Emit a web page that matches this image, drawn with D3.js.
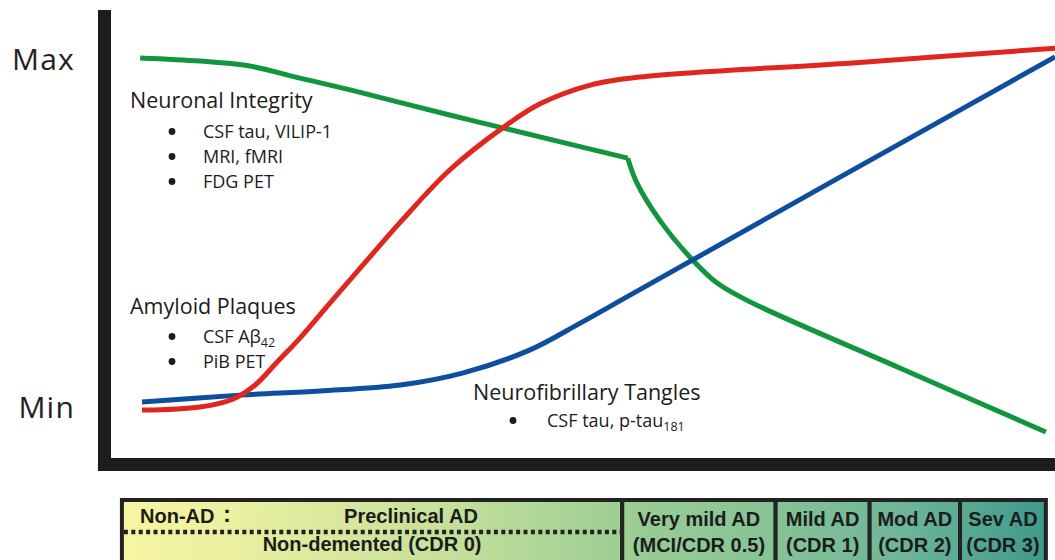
<!DOCTYPE html>
<html><head><meta charset="utf-8">
<script src="https://cdn.jsdelivr.net/npm/d3@7"></script>
<style>body{margin:0;background:#fff}svg{display:block}</style>
</head><body>
<svg id="chart" width="1055" height="560"></svg>
<script>
// ---- data (x: disease progression 0..100, y: Min=0 .. Max=100) ----
const yTickValues = [0, 100];
const yTickLabels = ["Min", "Max"];

const amyloid = [[0,-0.6],[6.35,0.3],[10.0,2.6],[12.4,6.6],[14.8,13.2],[17.3,20.1],[20.6,30.2],[24.2,41.1],[28.3,53.4],[33.7,68.4],[39.5,80.5],[43.6,87.4],[49.1,92.8],[54.5,95.1],[78.6,99.3],[100,103.4]];
const tangles = [[0,1.7],[10.7,3.7],[19.5,4.9],[28.3,6.6],[35.2,10.1],[42.5,16.7],[48.0,24.4],[53.5,32.5],[76.5,66.4],[100,100.9]];
const neuronBefore = [[-0.2,100.6],[6.35,99.7],[11.5,98.4],[17.3,94.8],[22.8,91.4],[33.7,84.2],[39.5,80.5],[53.2,71.8]];
const neuronAfter = [[53.2,71.8],[54.2,64.7],[56.7,54.0],[60.0,43.4],[63.0,35.9],[66.6,30.5],[83.0,11.5],[99.0,-6.9]];

const stageBounds = [-2.2, 52.6, 69.4, 79.7, 89.6, 99.0];
const stageTop = ["Very mild AD", "Mild AD", "Mod AD", "Sev AD"];
const stageBottom = ["(MCI/CDR 0.5)", "(CDR 1)", "(CDR 2)", "(CDR 3)"];

const neuronalItems = ["CSF tau, VILIP-1", "MRI, fMRI", "FDG PET"];
const amyloidItems = [["CSF Aβ", "42"], ["PiB PET", ""]];
const tangleItems = [["CSF tau, p-tau", "181"]];

// ---- drawing ----
const svg = d3.select("#chart");
const x = d3.scaleLinear().domain([0, 100]).range([142, 1055]);
const y = d3.scaleLinear().domain([0, 100]).range([408, 60]);
const ink = "#1c1c1c";
const sans = "'Open Sans', 'Noto Sans', sans-serif";
const bold = "'Liberation Sans', Arial, sans-serif";

// axes bars
svg.append("rect").attr("x", 98).attr("y", 10).attr("width", 13).attr("height", 461).attr("fill", ink);
svg.append("rect").attr("x", 98).attr("y", 458).attr("width", 957).attr("height", 13).attr("fill", ink);

// Min / Max labels via axis
const yAxis = d3.axisLeft(y).tickValues(yTickValues)
  .tickFormat((d, i) => yTickLabels[i]).tickSize(0).tickPadding(36);
const ga = svg.append("g").attr("transform", "translate(111,0)").call(yAxis);
ga.select(".domain").remove();
ga.selectAll("text").attr("font-family", sans).attr("font-size", 30)
  .attr("letter-spacing", "1.2px").attr("fill", "#222");

// curves
const line = d3.line().x(d => x(d[0])).y(d => y(d[1])).curve(d3.curveCatmullRom.alpha(0.5));
const curves = [
  {data: neuronBefore, color: "#11963f"},
  {data: neuronAfter, color: "#11963f"},
  {data: tangles, color: "#0d4f9e"},
  {data: amyloid, color: "#e1261f"}
];
svg.append("g").selectAll("path").data(curves).join("path")
  .attr("d", d => line(d.data)).attr("fill", "none")
  .attr("stroke", d => d.color).attr("stroke-width", 5)
  .attr("stroke-linejoin", "miter").attr("stroke-linecap", "butt");

// annotations
function group(title, tx, tb, items, bx, ix, baselines) {
  svg.append("text").attr("x", tx).attr("y", tb).attr("font-family", sans)
    .attr("font-size", 21.5).attr("fill", ink).text(title);
  items.forEach((it, i) => {
    svg.append("circle").attr("cx", bx).attr("cy", baselines[i] - 6.5).attr("r", 3.4).attr("fill", ink);
    const t = svg.append("text").attr("x", ix).attr("y", baselines[i]).attr("font-family", sans)
      .attr("font-size", 18).attr("fill", ink);
    const main = Array.isArray(it) ? it[0] : it;
    t.append("tspan").text(main);
    if (Array.isArray(it) && it[1]) {
      t.append("tspan").attr("font-size", 12.5).attr("dy", 4).text(it[1]);
    }
  });
}
group("Neuronal Integrity", 130, 108, neuronalItems, 172, 203, [138, 163, 188]);
group("Amyloid Plaques", 130, 314, amyloidItems, 172, 203, [343, 368]);
group("Neurofibrillary Tangles", 473, 400, tangleItems, 513, 547, [427]);

// stage bar
const defs = svg.append("defs");
const grad = defs.append("linearGradient").attr("id", "stageGrad")
  .attr("gradientUnits", "userSpaceOnUse").attr("x1", x(stageBounds[0])).attr("x2", x(stageBounds[5]))
  .attr("y1", 0).attr("y2", 0);
[[0, "#f7f5a2"], [0.12, "#eaf0a0"], [0.35, "#c6e09b"], [0.55, "#9bcd94"], [0.72, "#84c297"], [0.85, "#6cb598"], [1, "#3f998c"]]
  .forEach(s => grad.append("stop").attr("offset", s[0]).attr("stop-color", s[1]));

const barTop = 500, barBottom = 564;
for (let i = 0; i < stageBounds.length - 1; i++) {
  svg.append("rect").attr("x", x(stageBounds[i])).attr("y", barTop)
    .attr("width", x(stageBounds[i + 1]) - x(stageBounds[i])).attr("height", barBottom - barTop)
    .attr("fill", "url(#stageGrad)").attr("stroke", "#222").attr("stroke-width", 4);
}
// dotted separator in first box
svg.append("line").attr("x1", x(stageBounds[0]) + 2).attr("x2", x(stageBounds[1]) - 2)
  .attr("y1", 532).attr("y2", 532).attr("stroke", "#222").attr("stroke-width", 4.5)
  .attr("stroke-dasharray", "4,3.4");

function barText(tx, ty, s, anchor) {
  svg.append("text").attr("x", tx).attr("y", ty).attr("font-family", bold).attr("font-weight", "bold")
    .attr("font-size", 20).attr("fill", ink).attr("text-anchor", anchor || "middle").text(s);
}
barText(140, 523, "Non-AD", "start");
svg.append("text").attr("x", 227).attr("y", 522).attr("font-family", bold).attr("font-weight", "bold")
  .attr("font-size", 24).attr("text-anchor", "middle").attr("fill", ink).text(":");
barText(411, 523, "Preclinical AD");
barText((x(stageBounds[0]) + x(stageBounds[1])) / 2, 551, "Non-demented (CDR 0)");
for (let i = 0; i < stageTop.length; i++) {
  const cx = (x(stageBounds[i + 1]) + x(stageBounds[i + 2])) / 2;
  barText(cx, 526, stageTop[i]);
  barText(cx, 552, stageBottom[i]);
}
</script>
</body></html>
